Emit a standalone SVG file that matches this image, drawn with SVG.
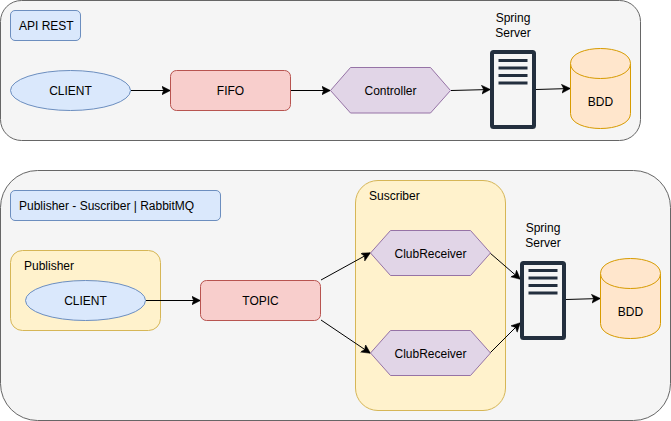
<svg xmlns="http://www.w3.org/2000/svg" width="671" height="421" viewBox="0 0 671 421">
<style>
text{font-family:"Liberation Sans",Arial,sans-serif;font-size:12px;fill:#000}
.c{text-anchor:middle}
.panel{fill:#f5f5f5;stroke:#666}
.blue{fill:#dae8fc;stroke:#6c8ebf}
.yellow{fill:#fff2cc;stroke:#d6b656}
.red{fill:#f8cecc;stroke:#b85450}
.purple{fill:#e1d5e7;stroke:#9673a6}
.db{fill:#ffe6cc;stroke:#d79b00}
.srv{fill:#f5f5f5;stroke:#232f3e;stroke-width:4}
.bar{stroke:#232f3e;stroke-width:3;fill:none}
.conn path{fill:none;stroke:#000;marker-end:url(#a)}
</style>
<defs><marker id="a" markerUnits="userSpaceOnUse" markerWidth="10" markerHeight="10" refX="8.5" refY="4.5" orient="auto"><path d="M0 0L9 4.5L0 9L2.2 4.5Z" fill="#000" stroke="#000" stroke-width=".5"/></marker></defs>
<g id="panel-rest"><rect class="panel" x="0.5" y="0.5" width="640" height="140" rx="21"/></g>
<g id="panel-pubsub"><rect class="panel" x="0.5" y="170.5" width="670" height="250" rx="37"/></g>
<g id="label-rest"><rect class="blue" x="10.5" y="10.5" width="70" height="30" rx="4.5"/><text x="19" y="30">API REST</text></g>
<g id="label-pubsub"><rect class="blue" x="10.5" y="190.5" width="210" height="30" rx="4.5"/><text x="19" y="210">Publisher - Suscriber | RabbitMQ</text></g>
<g id="publisher"><rect class="yellow" x="10.5" y="250.5" width="150" height="80" rx="12"/><text x="24" y="270">Publisher</text></g>
<g id="suscriber"><rect class="yellow" x="355.5" y="180.5" width="150" height="230" rx="22.5"/><text x="369" y="200">Suscriber</text></g>
<g class="conn" id="connectors">
<path d="M131 90.500H170"/>
<path d="M291 90.500H330"/>
<path d="M451 90.500L490 89.500"/>
<path d="M536 89.500L570 88.500"/>
<path d="M146 300.500H200"/>
<path d="M321 280L370 253"/>
<path d="M321 320L370 353"/>
<path d="M490 253L520 279"/>
<path d="M490 353L520 323"/>
<path d="M566 299.500L600 298.500"/>
</g>
<g id="client1"><ellipse class="blue" cx="70.500" cy="90.500" rx="60" ry="20"/><text class="c" x="70.500" y="95">CLIENT</text></g>
<g id="fifo"><rect class="red" x="170.500" y="70.500" width="120" height="40" rx="6"/><text class="c" x="230.500" y="95">FIFO</text></g>
<g id="controller"><path class="purple" d="M350.500 67.500H430.500L450.500 90.500L430.500 113H350.500L330.500 90.500Z"/><text class="c" x="390.500" y="95">Controller</text></g>
<g id="server1"><rect class="srv" x="492" y="52" width="42" height="75" rx="1.500"/><path class="bar" d="M498.500 60.500H527.500M498.500 68H527.500M498.500 75.500H527.500M498.500 83H527.500"/><text class="c" x="513" y="22">Spring</text><text class="c" x="513" y="37">Server</text></g>
<g id="bdd1"><path class="db" d="M570.500 63.500C570.500 43.500 630.500 43.500 630.500 63.500V113.500C630.500 133.500 570.500 133.500 570.500 113.500Z"/><path class="db" d="M570.500 63.500C570.500 83.500 630.500 83.500 630.500 63.500" fill="none"/><text class="c" x="600.500" y="106">BDD</text></g>
<g id="client2"><ellipse class="blue" cx="85.500" cy="300.500" rx="60" ry="20"/><text class="c" x="85.500" y="305">CLIENT</text></g>
<g id="topic"><rect class="red" x="200.500" y="280.500" width="120" height="40" rx="6"/><text class="c" x="260.500" y="305">TOPIC</text></g>
<g id="receiver1"><path class="purple" d="M390.500 230.500H470.500L490.500 253L470.500 275.500H390.500L370.500 253Z"/><text class="c" x="430.500" y="258">ClubReceiver</text></g>
<g id="receiver2"><path class="purple" d="M390.500 330.500H470.500L490.500 353L470.500 375.500H390.500L370.500 353Z"/><text class="c" x="430.500" y="358">ClubReceiver</text></g>
<g id="server2"><rect class="srv" x="522" y="263" width="42" height="75" rx="1.500"/><path class="bar" d="M528.500 270.500H557.500M528.500 278H557.500M528.500 285.500H557.500M528.500 293H557.500"/><text class="c" x="543" y="232">Spring</text><text class="c" x="543" y="247">Server</text></g>
<g id="bdd2"><path class="db" d="M600.500 273.500C600.500 253.500 660.500 253.500 660.500 273.500V323.500C660.500 343.500 600.500 343.500 600.500 323.500Z"/><path class="db" d="M600.500 273.500C600.500 293.500 660.500 293.500 660.500 273.500" fill="none"/><text class="c" x="630.500" y="316">BDD</text></g>
</svg>
